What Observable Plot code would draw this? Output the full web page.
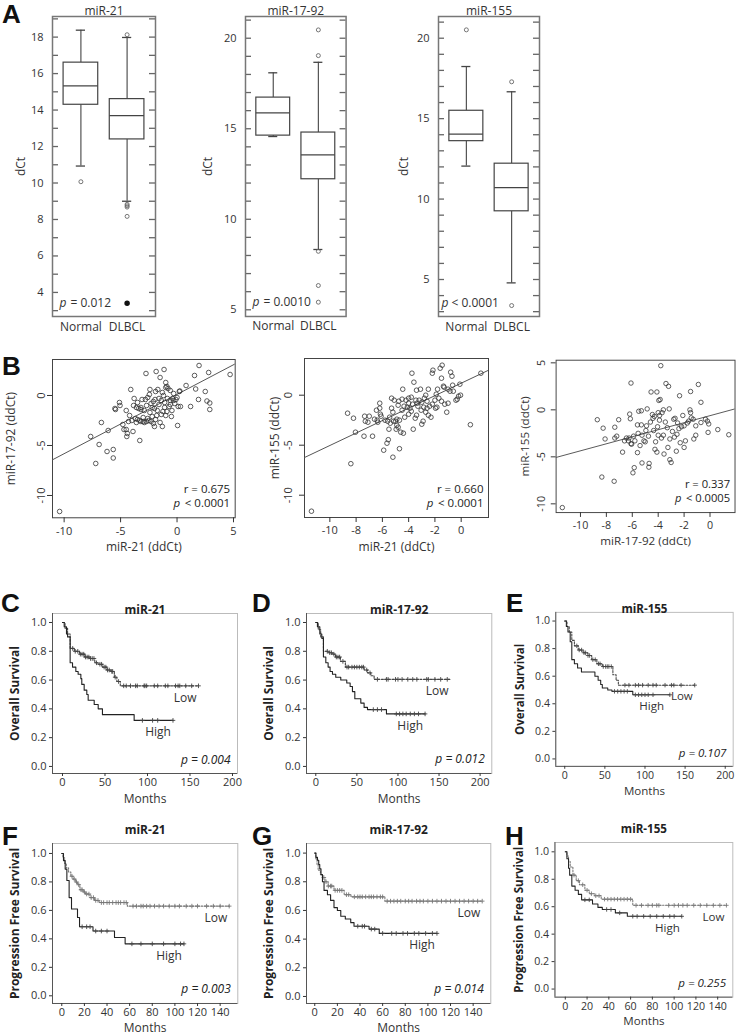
<!DOCTYPE html>
<html><head><meta charset="utf-8">
<script src="https://cdn.jsdelivr.net/npm/d3@7"></script>
<script src="https://cdn.jsdelivr.net/npm/@observablehq/plot@0.6"></script>
<style>
body{margin:0;background:#fff;}
#fig{position:relative;width:742px;height:1036px;overflow:hidden;background:#fff;}
.panel{position:absolute;}
.letter{position:absolute;font:bold 26px "Liberation Sans",Arial,sans-serif;line-height:1;color:#111;}
</style></head><body><div id="fig"></div><script>
// ---------------- Panel A: box plots ----------------
const boxGroups = ["Normal", "DLBCL"];
const boxTitles = ["miR-21", "miR-17-92", "miR-155"];
const boxP = ["= 0.012", "= 0.0010", "< 0.0001"];
const a1Q1 = [14.29, 12.39], a1Med = [15.33, 13.69], a1Q3 = [16.6, 14.6], a1Lo = [10.93, 9.0], a1Hi = [18.38, 17.98];
const a1OutGroup = ["Normal", "DLBCL", "DLBCL", "DLBCL", "DLBCL", "DLBCL"];
const a1OutVal = [10.07, 18.13, 8.83, 8.75, 8.68, 8.17];
const a1FillGroup = ["DLBCL"], a1FillVal = [3.41];
const a2Q1 = [14.62, 12.21], a2Med = [15.88, 13.56], a2Q3 = [16.72, 14.79], a2Lo = [14.57, 8.33], a2Hi = [18.09, 18.67];
const a2OutGroup = ["DLBCL", "DLBCL", "DLBCL", "DLBCL", "DLBCL"];
const a2OutVal = [20.46, 19.04, 8.23, 6.34, 5.42];
const a3Q1 = [13.6, 9.24], a3Med = [14.04, 10.71], a3Q3 = [15.49, 12.2], a3Lo = [12.05, 4.79], a3Hi = [18.24, 16.67];
const a3OutGroup = ["Normal", "DLBCL", "DLBCL"];
const a3OutVal = [20.52, 17.29, 3.38];
const a1Ticks = [4, 6, 8, 10, 12, 14, 16, 18];
const a2Ticks = [5, 10, 15, 20];
const a3Ticks = [5, 10, 15, 20];

// ---------------- Panel B: scatter plots ----------------
const b1x = [-10.4,-7.65,-7.2,-6.9,-6.7,-6.1,-6.2,-5.65,-5.65,-5.5,-5.45,-5.1,-5.05,-4.7,-4.5,-4.45,-4.4,-4.5,-4.2,-4.1,-3.9,-3.8,-3.85,-3.7,-3.5,-3.5,-3.4,-3.3,-3.2,-3.2,-3.1,-3.0,-2.9,-2.8,-2.75,-2.7,-2.6,-2.5,-2.45,-2.4,-2.3,-2.2,-2.1,-2.0,-2.0,-1.95,-1.9,-1.85,-1.8,-1.75,-1.7,-1.6,-1.5,-1.5,-1.4,-1.3,-1.25,-1.2,-1.15,-1.1,-1.0,-1.0,-0.9,-0.85,-0.8,-0.7,-0.6,-0.5,-0.45,-0.4,-0.3,-0.2,-0.1,0.0,0.05,0.1,0.2,0.25,0.3,0.8,1.2,1.55,1.65,1.95,1.9,2.5,2.65,2.8,2.9,2.9,4.7,-3.6,-3.3,-2.9,-2.6,-2.3,-2.2,-1.9,-1.6,-1.4,-1.1,-0.9,-0.6,-0.3,-3.0,-2.7,-4.0,-4.3,-3.6,-4.8,-2.1,-1.0,-0.6,-1.3,-2.4,-3.2];
const b1y = [-11.6,-4.1,-6.8,-4.9,-2.7,-3.5,-5.6,-5.4,-6.25,-1.3,-1.4,-0.7,-1.0,-3.4,-3.4,-4.1,-3.8,-1.5,-2.0,0.6,-3.6,-0.3,-1.0,-2.3,-2.4,-0.7,-1.3,-4.5,-2.6,-1.2,-0.4,-2.2,-2.7,-0.4,2.2,-1.0,-2.3,-2.5,0.1,-1.7,-0.8,-2.1,-2.8,-3.1,-1.3,-0.4,0.4,2.4,-2.0,-1.5,0.6,-0.9,1.8,-2.7,-0.5,-3.1,-1.6,0.0,2.6,-0.7,1.3,-2.0,0.9,-0.3,0.7,-1.1,-0.5,-2.1,-1.5,-0.3,-0.5,-0.8,-0.4,-0.2,-3.0,-1.1,0.4,0.45,-1.1,1.0,-1.1,2.0,0.65,3.0,-0.4,0.4,-0.55,2.3,-0.75,-1.4,2.1,-1.2,-2.5,-1.5,-0.2,-2.6,-1.2,-2.4,-0.3,-1.9,-1.2,-1.6,-0.9,0.2,-2.6,-2.6,-2.5,-2.6,-2.7,-2.9,-0.6,0.8,0.5,0.3,0.6,-1.4];
const b2x = [-11.4,-8.4,-8.65,-8.2,-8.05,-7.4,-7.35,-7.3,-7.1,-7.0,-6.75,-6.6,-6.45,-6.4,-6.35,-6.2,-6.2,-6.15,-6.1,-5.9,-5.8,-5.65,-5.55,-5.5,-5.45,-5.4,-5.3,-5.3,-5.2,-5.2,-5.15,-5.1,-5.0,-4.95,-4.9,-4.8,-4.8,-4.75,-4.7,-4.7,-4.6,-4.5,-4.5,-4.45,-4.4,-4.35,-4.3,-4.2,-4.1,-4.0,-4.0,-3.9,-3.8,-3.75,-3.7,-3.65,-3.6,-3.5,-3.45,-3.4,-3.35,-3.3,-3.2,-3.1,-3.05,-3.0,-3.0,-2.9,-2.85,-2.8,-2.7,-2.6,-2.5,-2.5,-2.4,-2.3,-2.2,-2.15,-2.0,-1.95,-1.85,-1.8,-1.6,-1.5,-1.45,-1.5,-1.3,-1.25,-1.1,-1.0,-0.85,-0.8,-0.7,-0.65,-0.6,-0.4,-0.3,-0.2,-0.1,-0.05,0.7,1.5,-1.35,-1.0,-2.7,-3.8,-4.9,-5.6,-2.2,-1.7,-3.4,-4.0,-2.6,-1.9];
const b2y = [-11.6,-6.85,-1.8,-2.3,-3.7,-4.1,-2.1,-2.6,-2.7,-2.1,-4.1,-2.4,-1.5,-2.5,-2.7,-0.8,-1.3,-1.9,-2.1,-5.5,-2.5,-4.8,-4.45,-3.4,-2.2,-2.8,-1.3,-0.3,-6.2,-1.7,-2.6,-0.5,-2.6,-3.4,-3.0,-3.2,-1.0,-0.6,-5.35,-2.5,-3.7,-1.5,-0.4,0.6,-3.8,-1.1,-2.2,-0.5,-1.2,-0.3,-0.8,-1.3,-1.6,2.2,-0.9,-3.4,1.3,-2.3,-0.5,0.5,-0.8,-1.1,-0.5,0.6,-1.5,-2.9,-0.7,-2.6,-1.2,-0.3,0.0,-0.6,-2.0,0.6,-1.1,-2.2,2.2,2.5,-0.5,-1.3,-1.2,0.6,2.7,1.7,3.0,-0.6,0.8,-0.9,-1.7,-0.8,0.4,2.3,1.9,1.0,0.4,-0.5,-0.4,-0.1,1.1,0.0,-2.95,2.2,0.9,0.6,-1.7,-0.2,-2.4,-2.6,-0.9,-0.3,-2.0,-1.9,-1.3,0.1];
const b3x = [-11.4,-8.7,-8.25,-8.35,-8.1,-7.35,-7.35,-7.2,-7.4,-7.05,-6.75,-6.45,-6.3,-6.1,-6.2,-6.25,-6.1,-6.05,-6.15,-5.85,-5.95,-5.6,-5.5,-5.3,-5.6,-5.55,-5.3,-5.25,-5.25,-5.1,-5.0,-4.85,-4.9,-4.75,-4.7,-4.72,-4.55,-4.45,-4.4,-4.35,-4.3,-4.25,-4.1,-4.05,-4.0,-3.85,-3.8,-3.95,-4.1,-3.9,-3.75,-3.6,-3.6,-3.7,-3.55,-3.4,-3.2,-3.3,-3.25,-3.15,-3.1,-3.0,-2.9,-2.8,-2.7,-2.6,-2.55,-2.5,-2.35,-2.3,-2.2,-2.0,-2.0,-1.9,-1.75,-1.65,-1.5,-1.55,-1.5,-1.45,-1.3,-1.25,-1.1,-0.9,-0.7,-0.7,-0.35,-0.2,-0.1,-0.15,0.6,1.45,-4.6,-4.95,-5.9,-2.75,-2.4,-3.45,-4.2,-5.4,-2.1,-1.1,-3.1,-4.0,-5.8,-6.6,-3.9];
const b3y = [-10.4,-1.05,-1.95,-7.15,-3.1,-1.85,-3.0,-2.8,-7.6,-1.05,-4.5,-3.0,-3.3,2.85,-0.45,-3.0,-3.6,-3.65,-0.95,-6.15,-6.7,-4.55,-0.15,-0.1,-1.6,-2.5,-1.6,-5.65,-2.7,-3.3,-3.4,0.1,-1.7,-2.8,-5.7,-6.1,1.9,-0.5,-0.9,-2.2,-0.7,-4.2,-4.5,-1.8,-0.3,1.1,4.7,1.0,1.9,-1.1,-3.0,-2.7,0.0,-0.3,-4.7,2.8,2.5,-1.9,-4.0,0.1,-5.3,-5.6,-2.3,-1.0,-0.9,-4.4,-2.6,-1.4,1.5,-3.5,-1.8,-4.0,-1.7,-3.3,-1.4,-1.2,1.95,0.0,-0.3,-0.85,-1.0,-3.1,-2.7,2.7,0.8,-1.35,-1.0,-1.2,-1.5,-2.4,-2.1,-2.65,-1.3,-2.2,-2.8,-2.9,-2.0,-1.3,-3.4,-3.8,-0.6,-1.7,-3.1,-2.7,-3.3,-3.3,-0.6];
const bSlope = [0.593, 0.623, 0.374];
const bIntercept = [0.11, 1.2, -0.62];
const bXLabels = ["miR-21 (ddCt)", "miR-21 (ddCt)", "miR-17-92 (ddCt)"];
const bYLabels = ["miR-17-92 (ddCt)", "miR-155 (ddCt)", "miR-155 (ddCt)"];
const bR = ["r = 0.675", "r = 0.660", "r = 0.337"];
const bP = ["< 0.0001", "< 0.0001", "< 0.0005"];
const b1XTicks = [-10, -5, 0, 5], b1YTicks = [-10, -5, 0];
const b2XTicks = [-10, -8, -6, -4, -2, 0], b2YTicks = [-10, -5, 0];
const b3XTicks = [-10, -8, -6, -4, -2, 0], b3YTicks = [-10, -5, 0, 5];

// ---------------- Panels C-H: Kaplan-Meier ----------------
const kmTitles = ["miR-21", "miR-17-92", "miR-155"];
const osTicks = [0, 50, 100, 150, 200];
const pfsTicks = [0, 20, 40, 60, 80, 100, 120, 140];
const survTicks = [0, 0.2, 0.4, 0.6, 0.8, 1.0];
const kmP = ["p = 0.004", "p = 0.012", "p = 0.107", "p = 0.003", "p = 0.014", "p = 0.255"];

const cHighT = [0, 2, 4.7, 6, 9, 11.8, 15.7, 18.4, 21.6, 22.7, 25.5, 28.6, 30.2, 37.3, 42, 47, 84.3];
const cHighS = [1, 0.97, 0.92, 0.9, 0.72, 0.69, 0.66, 0.64, 0.61, 0.57, 0.53, 0.5, 0.46, 0.43, 0.4, 0.36, 0.32];
const cHighEnd = 130, cHighCens = [94, 106, 112, 130];
const cLowT = [0, 3, 6, 9, 14, 20, 26, 32, 38, 42, 47, 52, 57, 61, 64, 68];
const cLowS = [1, 0.96, 0.92, 0.82, 0.8, 0.78, 0.76, 0.75, 0.72, 0.71, 0.69, 0.67, 0.66, 0.62, 0.59, 0.56];
const cLowEnd = 160, cLowCens = [12,15,18,21,23,25,27,29,31,33,35,37,40,44,46,49,51,53,55,58,59,62,66,72,75,80,86,88,96,97,99,108,112,121,124,133,136,138,145,152,160];

const dHighT = [0, 2, 4.9, 7.3, 9.3, 12.2, 15, 17.4, 20.3, 24.3, 30.4, 37.7, 41.8, 44.6, 47.5, 54.8, 58.8, 62.9, 86];
const dHighS = [1, 0.97, 0.92, 0.89, 0.76, 0.72, 0.69, 0.66, 0.64, 0.62, 0.6, 0.58, 0.555, 0.52, 0.47, 0.44, 0.41, 0.395, 0.365];
const dHighEnd = 133, dHighCens = [70, 75, 80, 98, 102, 106, 110, 115, 120, 125, 133];
const dLowT = [0, 3, 6, 9.3, 16, 20, 24, 30, 36, 59, 63, 67, 71];
const dLowS = [1, 0.95, 0.9, 0.8, 0.79, 0.78, 0.76, 0.73, 0.69, 0.67, 0.65, 0.63, 0.605];
const dLowEnd = 164, dLowCens = [14,17,19,22,25,27,29,33,38,40,44,47,50,53,56,58,62,66,75,86,88,97,100,105,112,118,123,135,137,145,152,160];

const eHighT = [0, 2, 4, 6.8, 8.8, 12, 16, 20.8, 37.6, 41.6, 44.8, 46.8, 53.6, 58.8, 84.8];
const eHighS = [1, 0.96, 0.92, 0.85, 0.72, 0.69, 0.66, 0.63, 0.6, 0.57, 0.54, 0.515, 0.5, 0.49, 0.465];
const eHighEnd = 131, eHighCens = [62, 66, 70, 74, 78, 88, 92, 96, 100, 104, 110, 131];
const eLowT = [0, 2.8, 5.6, 8.8, 12, 16.8, 22.8, 28.8, 33.6, 40, 46.8, 60, 64, 66.8];
const eLowS = [1, 0.96, 0.92, 0.86, 0.82, 0.79, 0.77, 0.75, 0.72, 0.69, 0.67, 0.61, 0.57, 0.535];
const eLowEnd = 162, eLowCens = [15,18,21,24,26,29,31,35,38,42,44,48,51,53,55,58,75,80,88,92,97,104,110,114,125,133,136,145,162];

const fHighT = [0, 1.5, 3, 4.5, 6.5, 8.6, 13.9, 15.7, 27.6, 46.6, 56];
const fHighS = [1, 0.95, 0.89, 0.81, 0.69, 0.61, 0.55, 0.485, 0.455, 0.41, 0.365];
const fHighEnd = 108, fHighCens = [18, 22, 25, 30, 35, 40, 62, 70, 80, 90, 100, 105, 108];
const fLowT = [0, 1, 2.5, 4, 6, 8, 10, 12, 14, 16, 19, 21, 25, 29, 33, 58];
const fLowS = [1, 0.97, 0.93, 0.9, 0.87, 0.84, 0.82, 0.8, 0.78, 0.745, 0.73, 0.715, 0.69, 0.67, 0.655, 0.63];
const fLowEnd = 148, fLowCens = [9,11,13,15,17,18,20,22,24,26,28,30,32,35,37,40,42,45,48,50,52,55,57,63,66,70,72,75,78,82,86,90,95,100,104,110,115,120,128,134,140,148];

const gHighT = [0, 1, 2.4, 3.5, 4.4, 5.5, 6.8, 8.2, 11.2, 14, 17, 20, 23, 27, 31.8, 34.7, 48, 57];
const gHighS = [1, 0.97, 0.95, 0.92, 0.89, 0.85, 0.8, 0.74, 0.71, 0.67, 0.62, 0.6, 0.56, 0.54, 0.515, 0.49, 0.47, 0.44];
const gHighEnd = 108, gHighCens = [38, 42, 44, 50, 53, 60, 68, 72, 78, 82, 88, 92, 98, 104, 108];
const gLowT = [0, 1, 2, 3, 5, 7, 9, 11.8, 17, 26, 32, 62];
const gLowS = [1, 0.96, 0.92, 0.88, 0.85, 0.83, 0.8, 0.77, 0.74, 0.71, 0.695, 0.665];
const gLowEnd = 148, gLowCens = [8,10,12,14,15,18,20,22,24,28,30,35,38,40,42,45,48,50,52,55,58,60,64,67,70,73,76,80,83,86,90,93,96,100,104,108,112,116,120,124,128,132,136,140,144,148];

const hHighT = [0, 1.5, 3, 4, 6, 9, 12, 15, 25, 30, 34, 46, 57];
const hHighS = [1, 0.95, 0.88, 0.83, 0.75, 0.72, 0.69, 0.65, 0.62, 0.595, 0.58, 0.555, 0.53];
const hHighEnd = 107, hHighCens = [18, 22, 38, 42, 50, 62, 66, 72, 78, 84, 90, 96, 100, 107];
const hLowT = [0, 1.5, 3, 4.5, 7, 10, 13, 18, 22, 27, 33, 62];
const hLowS = [1, 0.97, 0.93, 0.89, 0.83, 0.79, 0.76, 0.72, 0.695, 0.68, 0.655, 0.61];
const hLowEnd = 148, hLowCens = [8,12,16,20,24,28,31,36,39,42,45,48,51,54,57,60,65,70,76,80,84,86,95,100,104,108,112,118,124,130,136,142,148];

// ---------------- helpers ----------------
const fig = document.getElementById("fig");
const FONT = "'Open Sans','Noto Sans',sans-serif";
const fmtMinus = d => String(d);

function addPlot(frame, m, opts) {
  const [x0, y0, x1, y1] = frame;
  const svg = Plot.plot({
    width: (x1 - x0) + m[1] + m[3],
    height: (y1 - y0) + m[0] + m[2],
    marginTop: m[0], marginRight: m[1], marginBottom: m[2], marginLeft: m[3],
    style: {fontFamily: FONT, fontSize: "11px", color: "#333", background: "transparent", overflow: "visible"},
    ...opts
  });
  const div = document.createElement("div");
  div.className = "panel";
  div.style.left = (x0 - m[3]) + "px";
  div.style.top = (y0 - m[0]) + "px";
  div.appendChild(svg);
  fig.appendChild(div);
}

function letter(ch, left, top) {
  const d = document.createElement("div");
  d.className = "letter";
  d.textContent = ch;
  d.style.left = left + "px";
  d.style.top = top + "px";
  fig.appendChild(d);
}

function boxPanel(k, frame, yDomain, labelTicks, minorRange, q1, med, q3, lo, hi, outG, outV, fillG, fillV, yLabDx, pDx) {
  const pos = {Normal: 1, DLBCL: 2};
  const rows = boxGroups.map((g, j) => ({g, x: pos[g], q1: q1[j], med: med[j], q3: q3[j], lo: lo[j], hi: hi[j]}));
  const outs = outV.map((v, j) => ({x: pos[outG[j]], v}));
  const fills = fillV.map((v, j) => ({x: pos[fillG[j]], v}));
  const xd = [0.385, 2.615];
  const hw = 0.375, cw = 0.1;
  const tl = 6 * (xd[1] - xd[0]) / (frame[2] - frame[0]);
  const minor = d3.range(minorRange[0], minorRange[1] + 1);
  addPlot(frame, [16, 10, 24, 46], {
    x: {domain: xd, axis: null},
    y: {domain: yDomain},
    marks: [
      Plot.ruleY(minor, {x1: xd[0], x2: xd[0] + tl, stroke: "#666", strokeWidth: 1.3}),
      Plot.ruleY(minor, {x1: xd[1] - tl, x2: xd[1], stroke: "#666", strokeWidth: 1.3}),
      Plot.axisY({ticks: labelTicks, tickSize: 0, tickPadding: 9, label: null, fontSize: 11}),
      Plot.ruleX(rows, {x: "x", y1: "q3", y2: "hi", stroke: "#444", strokeWidth: 1.1}),
      Plot.ruleX(rows, {x: "x", y1: "lo", y2: "q1", stroke: "#444", strokeWidth: 1.1}),
      Plot.ruleY(rows, {y: "hi", x1: d => d.x - cw, x2: d => d.x + cw, stroke: "#444", strokeWidth: 1.3}),
      Plot.ruleY(rows, {y: "lo", x1: d => d.x - cw, x2: d => d.x + cw, stroke: "#444", strokeWidth: 1.3}),
      Plot.rect(rows, {x1: d => d.x - hw, x2: d => d.x + hw, y1: "q1", y2: "q3", fill: "white", stroke: "#444", strokeWidth: 1.2}),
      Plot.ruleY(rows, {y: "med", x1: d => d.x - hw, x2: d => d.x + hw, stroke: "#444", strokeWidth: 1.3}),
      Plot.dot(outs, {x: "x", y: "v", r: 2, stroke: "#666", strokeWidth: 0.9}),
      Plot.dot(fills, {x: "x", y: "v", r: 2, fill: "#111", stroke: "#111"}),
      Plot.frame({stroke: "#777", strokeWidth: 1.5}),
      Plot.text([boxTitles[k]], {frameAnchor: "top", dy: -10, fontSize: 12, fill: "#333"}),
      Plot.text(["dCt"], {frameAnchor: "left", dx: yLabDx, rotate: -90, textAnchor: "middle", fontSize: 12, fill: "#333"}),
      Plot.text(boxGroups, {x: d => pos[d], frameAnchor: "bottom", dy: 14, fontSize: 12, fill: "#333"}),
      Plot.text(["p"], {frameAnchor: "bottom-left", dx: pDx[0], dy: -10, textAnchor: "start", fontStyle: "italic", fontSize: 12, fill: "#333"}),
      Plot.text([boxP[k]], {frameAnchor: "bottom-left", dx: pDx[1], dy: -10, textAnchor: "start", fontSize: 12, fill: "#333"})
    ]
  });
}

function scatterPanel(k, frame, xd, yd, xs, ys, xTicks, yTicks, tickPad, yLabDx) {
  const pts = xs.map((x, i) => ({x, y: ys[i]}));
  const line = xd.map(x => ({x, y: bIntercept[k] + bSlope[k] * x}));
  addPlot(frame, [10, 8, 40, 50], {
    x: {domain: xd},
    y: {domain: yd},
    marks: [
      Plot.frame({stroke: "#444", strokeWidth: 1}),
      Plot.axisX({ticks: xTicks, tickSize: 5, tickPadding: 4, label: null, tickFormat: fmtMinus, fontSize: 11}),
      Plot.axisY({ticks: yTicks, tickSize: 5, tickRotate: -90, tickPadding: tickPad, label: null, tickFormat: fmtMinus, fontSize: 11}),
      Plot.line(line, {x: "x", y: "y", stroke: "#555", strokeWidth: 1, clip: true}),
      Plot.dot(pts, {x: "x", y: "y", r: 2.3, stroke: "#333", strokeWidth: 0.8}),
      Plot.text([bXLabels[k]], {frameAnchor: "bottom", dy: 33, fontSize: 12, fill: "#333"}),
      Plot.text([bYLabels[k]], {frameAnchor: "left", dx: yLabDx, rotate: -90, textAnchor: "middle", fontSize: 12, fill: "#333"}),
      Plot.text([bR[k]], {frameAnchor: "bottom-right", dx: -5, dy: -25, textAnchor: "end", fontSize: 11.5, fill: "#222"}),
      Plot.text([bP[k]], {frameAnchor: "bottom-right", dx: -5, dy: -11, textAnchor: "end", fontSize: 11.5, fill: "#222"}),
      Plot.text(["p"], {frameAnchor: "bottom-right", dx: -55, dy: -11, textAnchor: "end", fontStyle: "italic", fontSize: 11.5, fill: "#222"})
    ]
  });
}

function survAt(T, S, t) {
  let s = S[0];
  for (let i = 0; i < T.length; i++) if (T[i] <= t) s = S[i];
  return s;
}
function curveRows(T, S, end) {
  const r = T.map((t, i) => ({t, s: S[i]}));
  r.push({t: end, s: S[S.length - 1]});
  return r;
}

function kmPanel(k, frame, xd, yd, xTicks, yLabel, high, low, titleDy, lowStyle, monthsDy, highDx) {
  const hRows = curveRows(high.T, high.S, high.end);
  const lRows = curveRows(low.T, low.S, low.end);
  const hC = high.cens.map(t => ({t, s: survAt(high.T, high.S, t)}));
  const lC = low.cens.map(t => ({t, s: survAt(low.T, low.S, t)}));
  const hLast = [hRows[hRows.length - 1]], lLast = [lRows[lRows.length - 1]];
  addPlot(frame, [30, 10, 33, 46], {
    x: {domain: xd},
    y: {domain: yd},
    marks: [
      Plot.frame({stroke: "#bbb", strokeWidth: 1}),
      Plot.ruleX([xd[0]], {stroke: "#555", strokeWidth: 1}),
      Plot.ruleY([yd[0]], {stroke: "#555", strokeWidth: 1}),
      Plot.axisX({ticks: xTicks, tickSize: 3, tickPadding: 2, label: null, fontSize: 11}),
      Plot.axisY({ticks: survTicks, tickSize: 3, tickPadding: 3, label: null, tickFormat: d3.format(".1f"), fontSize: 11}),
      Plot.line(lRows, {x: "t", y: "s", curve: "step-after", stroke: lowStyle.stroke, strokeWidth: 1.1, strokeDasharray: lowStyle.dash}),
      Plot.dot(lC, {x: "t", y: "s", symbol: "plus", r: 1.6, stroke: lowStyle.stroke, fill: "none", strokeWidth: 0.9}),
      Plot.line(hRows, {x: "t", y: "s", curve: "step-after", stroke: "#222", strokeWidth: 1.1}),
      Plot.dot(hC, {x: "t", y: "s", symbol: "plus", r: 1.6, stroke: "#444", fill: "none", strokeWidth: 0.9}),
      Plot.text(lLast, {x: "t", y: "s", text: () => "Low", dx: -2, dy: 12, textAnchor: "end", fontSize: 12, fill: "#333"}),
      Plot.text(hLast, {x: "t", y: "s", text: () => "High", dx: highDx, dy: 12, textAnchor: "end", fontSize: 12, fill: "#333"}),
      Plot.text([kmTitles[k % 3]], {frameAnchor: "top", dy: titleDy, fontWeight: "bold", fontSize: 12, fill: "#222"}),
      Plot.text([yLabel], {frameAnchor: "left", dx: -37, rotate: -90, textAnchor: "middle", fontWeight: "bold", fontSize: 12, fill: "#222"}),
      Plot.text(["Months"], {frameAnchor: "bottom", dy: monthsDy, fontSize: 12, fill: "#333"}),
      Plot.text([kmP[k]], {frameAnchor: "bottom-right", dx: -7, dy: -10, textAnchor: "end", fontStyle: "italic", fontSize: 12, fill: "#222"})
    ]
  });
}

// ---------------- build ----------------
boxPanel(0, [52, 16, 155, 316], [2.68, 19.13], a1Ticks, [3, 19], a1Q1, a1Med, a1Q3, a1Lo, a1Hi, a1OutGroup, a1OutVal, a1FillGroup, a1FillVal, -31, [7, 18]);
boxPanel(1, [244.7, 16, 345.3, 316], [4.63, 21.2], a2Ticks, [5, 21], a2Q1, a2Med, a2Q3, a2Lo, a2Hi, a2OutGroup, a2OutVal, [], [], -37, [7, 18]);
boxPanel(2, [437.7, 16, 538.7, 316], [2.70, 21.35], a3Ticks, [3, 21], a3Q1, a3Med, a3Q3, a3Lo, a3Hi, a3OutGroup, a3OutVal, [], [], -34, [3, 13]);

scatterPanel(0, [52.3, 359, 235, 517.3], [-11.03, 5.15], [-12.23, 3.6], b1x, b1y, b1XTicks, b1YTicks, 3, -41);
scatterPanel(1, [304.3, 358.3, 488.3, 517.3], [-11.93, 2.08], [-12.23, 3.67], b2x, b2y, b2XTicks, b2YTicks, 8, -29);
scatterPanel(2, [556.7, 360, 740.7, 516.7], [-11.88, 1.93], [-10.93, 5.28], b3x, b3y, b3XTicks, b3YTicks, 6, -32);

const darkLow = {stroke: "#444", dash: "2,1.5"};
const lightLow = {stroke: "#777", dash: "1.5,1.5"};
kmPanel(0, [51.7, 612.7, 236.7, 772.7], [-11.76, 205.9], [-0.049, 1.0625], osTicks, "Overall Survival",
  {T: cHighT, S: cHighS, end: cHighEnd, cens: cHighCens}, {T: cLowT, S: cLowS, end: cLowEnd, cens: cLowCens}, -8, darkLow, 29.5, -2);
kmPanel(1, [305.7, 612.7, 491, 772.7], [-11.3, 214.2], [-0.049, 1.0625], osTicks, "Overall Survival",
  {T: dHighT, S: dHighS, end: dHighEnd, cens: dHighCens}, {T: dLowT, S: dLowS, end: dLowEnd, cens: dLowCens}, -8, darkLow, 29.5, -2);
kmPanel(2, [556.7, 612.7, 741, 772.7], [-11.2, 209.9], [-0.054, 1.063], osTicks, "Overall Survival",
  {T: eHighT, S: eHighS, end: eHighEnd, cens: eHighCens}, {T: eLowT, S: eLowS, end: eLowEnd, cens: eLowCens}, -8, darkLow, 29.5, -6);
kmPanel(3, [51.7, 842.7, 237, 1002.7], [-8.2, 155.6], [-0.054, 1.07], pfsTicks, "Progression Free Survival",
  {T: fHighT, S: fHighS, end: fHighEnd, cens: fHighCens}, {T: fLowT, S: fLowS, end: fLowEnd, cens: fLowCens}, -18, lightLow, 28.5, -2);
kmPanel(4, [305.7, 842.7, 490, 1002.7], [-7.3, 155.6], [-0.049, 1.067], pfsTicks, "Progression Free Survival",
  {T: gHighT, S: gHighS, end: gHighEnd, cens: gHighCens}, {T: gLowT, S: gLowS, end: gLowEnd, cens: gLowCens}, -18, lightLow, 28.5, -2);
kmPanel(5, [556, 842.7, 740, 1002.7], [-9.5, 153.9], [-0.059, 1.068], pfsTicks, "Progression Free Survival",
  {T: hHighT, S: hHighS, end: hHighEnd, cens: hHighCens}, {T: hLowT, S: hLowS, end: hLowEnd, cens: hLowCens}, -18, lightLow, 28.5, -2);

letter("A", 2, 1);
letter("B", 2, 353);
letter("C", 1, 590);
letter("D", 252, 590);
letter("E", 506, 590);
letter("F", 2, 823);
letter("G", 252, 823);
letter("H", 505, 823);
</script></body></html>
